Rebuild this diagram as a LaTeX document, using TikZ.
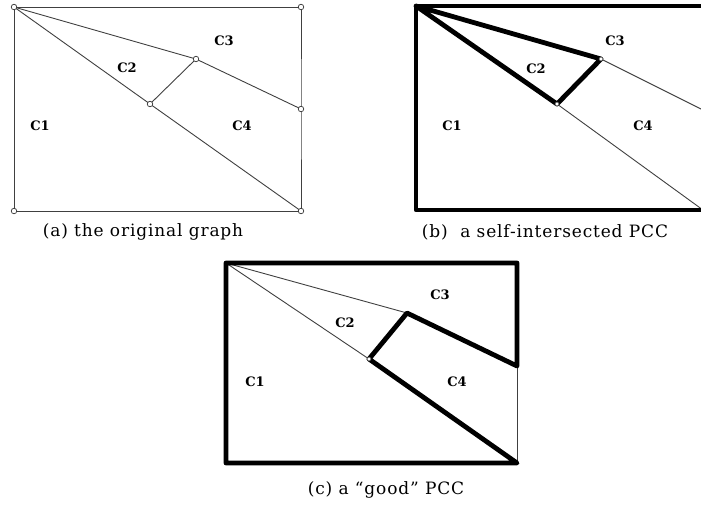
\documentclass[tikz,border=0pt]{standalone}
\usepackage{fontspec}
\usepackage{tikz}
\newfontfamily\capfont[LetterSpace=5]{DejaVu Serif}
\newfontfamily\facefont{DejaVu Serif}

\begin{document}
\begin{tikzpicture}[
    x=1pt, y=-1pt,
    edge/.style={line width=0.9pt, black!75},
    pcc/.style={line width=4.8pt, black, line join=round, line cap=round},
    vtx/.style={circle, draw=black!80, fill=white, line width=0.7pt, inner sep=0pt, minimum size=5.5pt},
    smallvtx/.style={vtx, minimum size=4pt, line width=0.6pt},
    face/.style={font=\facefont\fontsize{13}{13}\selectfont\bfseries},
    subcap/.style={font=\capfont\fontsize{17}{17}\selectfont}
]
\useasboundingbox (0,0) rectangle (701,507);

% (a) the original graph
\coordinate (a-tl) at (14,7);
\coordinate (a-tr) at (301,7);
\coordinate (a-bl) at (14,211);
\coordinate (a-br) at (301,211);
\coordinate (a-q) at (196,59);
\coordinate (a-s) at (150,104);
\coordinate (a-r) at (301,109);
\draw[edge] (a-tl) -- (a-tr) -- (a-r) -- (a-br) -- (a-bl) -- cycle;
\draw[edge] (a-tl) -- (a-q) -- (a-r);
\draw[edge] (a-tl) -- (a-s) -- (a-br);
\draw[edge] (a-q) -- (a-s);
\foreach \v in {tl,tr,bl,br,q,s,r}
  \node[vtx] (a-\v-o) at (a-\v) {};
\node[face] (a-c1) at (40,126) {C1};
\node[face] (a-c2) at (127,68) {C2};
\node[face] (a-c3) at (224,41) {C3};
\node[face] (a-c4) at (242,126) {C4};
\node[subcap] (a-cap) at (143,232) {(a) the original graph};

% (b) a self-intersected PCC
\coordinate (b-tl) at (416,6);
\coordinate (b-tr) at (703,6);
\coordinate (b-bl) at (416,210);
\coordinate (b-br) at (703,210);
\coordinate (b-q) at (601,59);
\coordinate (b-s) at (557,104);
\coordinate (b-r) at (703,110);
\draw[edge] (b-q) -- (b-r);
\draw[edge] (b-s) -- (b-br);
\draw[pcc] (b-br) -- (b-bl) -- (b-tl) -- (b-tr) -- cycle;
\draw[pcc] (b-tl) -- (b-q) -- (b-s) -- cycle;
\node[smallvtx] (b-q-o) at (b-q) {};
\node[smallvtx] (b-s-o) at (b-s) {};
\node[face] (b-c1) at (452,126) {C1};
\node[face] (b-c2) at (536,69) {C2};
\node[face] (b-c3) at (615,41) {C3};
\node[face] (b-c4) at (643,126) {C4};
\node[subcap] (b-cap) at (545,232) {(b)\ \ a self-intersected PCC};

% (c) a good PCC
\coordinate (c-tl) at (226,263);
\coordinate (c-tr) at (517,263);
\coordinate (c-bl) at (226,463);
\coordinate (c-br) at (517,463);
\coordinate (c-q) at (407,313);
\coordinate (c-s) at (369,359);
\coordinate (c-r) at (517,366);
\draw[edge] (c-tl) -- (c-q);
\draw[edge] (c-tl) -- (c-s);
\draw[edge] (c-r) -- (c-br);
\draw[pcc] (c-tl) -- (c-tr) -- (c-r) -- (c-q) -- (c-s) -- (c-br) -- (c-bl) -- cycle;
\node[smallvtx] (c-s-o) at (c-s) {};
\node[face] (c-c1) at (255,382) {C1};
\node[face] (c-c2) at (345,323) {C2};
\node[face] (c-c3) at (440,295) {C3};
\node[face] (c-c4) at (457,382) {C4};
\node[subcap] (c-cap) at (386,490) {(c) a “good” PCC};
\end{tikzpicture}
\end{document}
